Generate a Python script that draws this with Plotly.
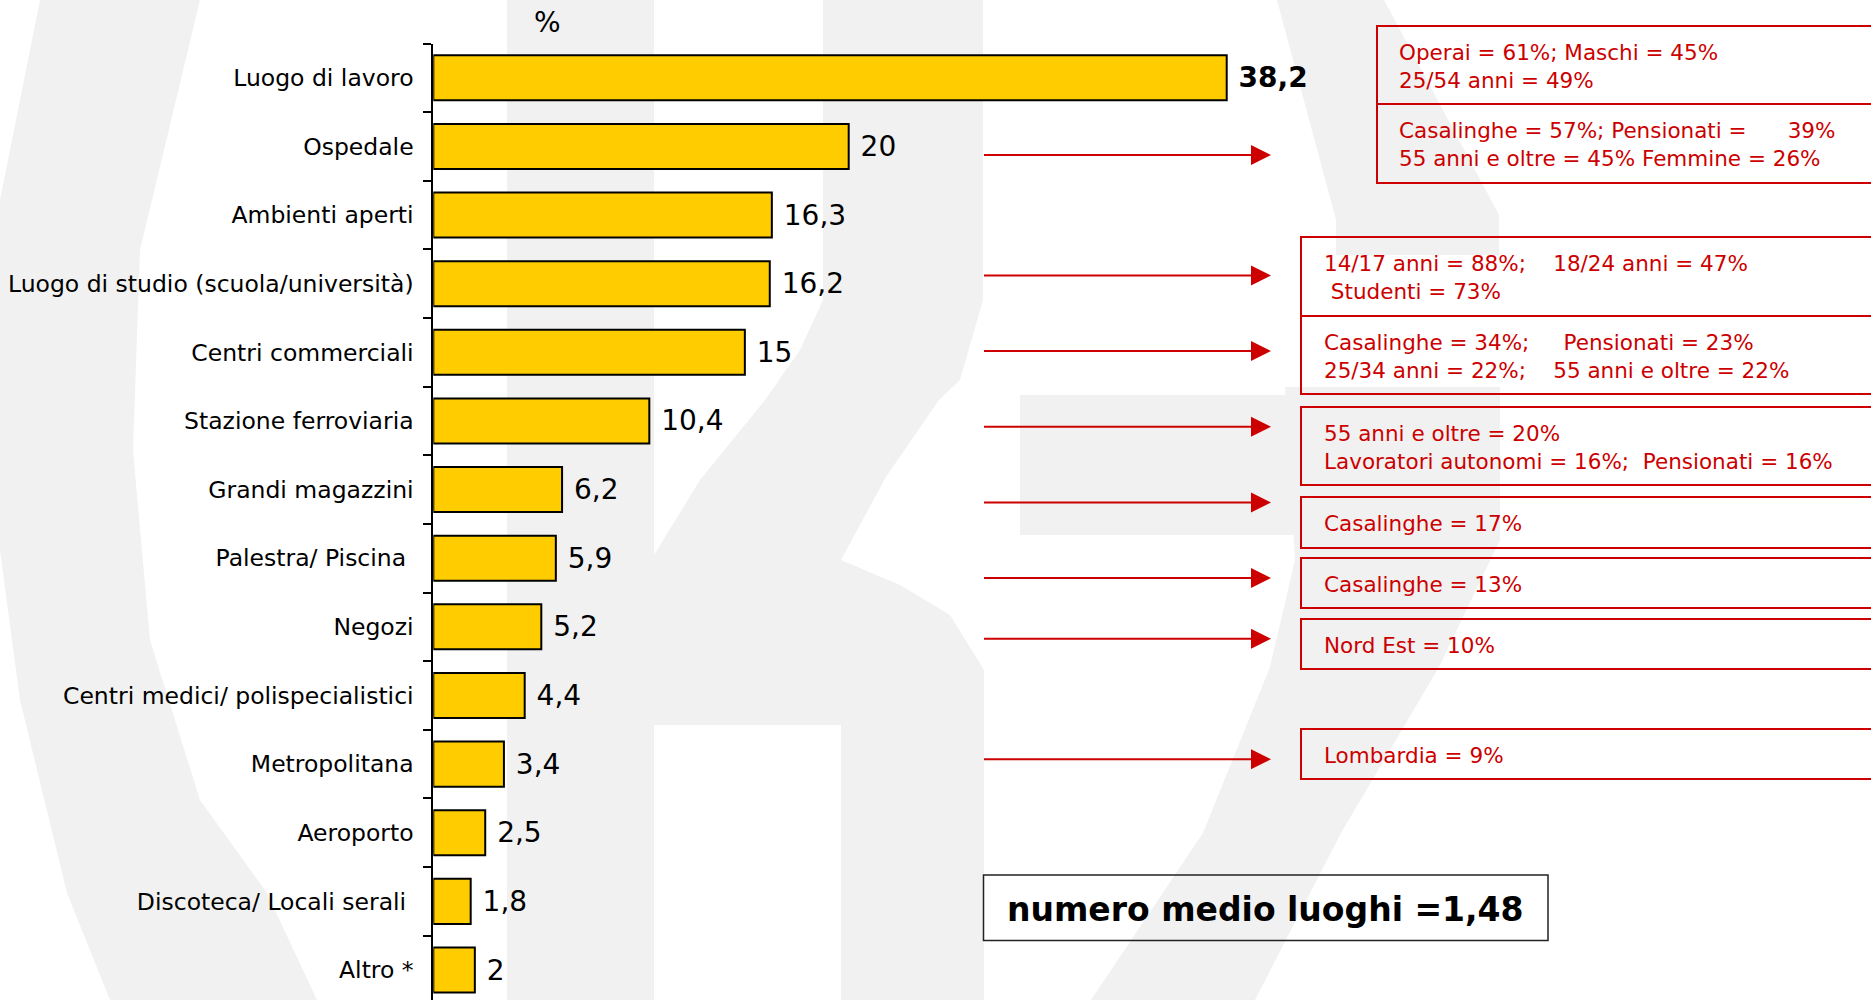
import plotly.graph_objects as go

W, H = 1871, 1000

# ---------------- data ----------------
categories = [
    "Luogo di lavoro", "Ospedale", "Ambienti aperti",
    "Luogo di studio (scuola/università)", "Centri commerciali",
    "Stazione ferroviaria", "Grandi magazzini", "Palestra/ Piscina",
    "Negozi", "Centri medici/ polispecialistici", "Metropolitana",
    "Aeroporto", "Discoteca/ Locali serali", "Altro *",
]
values = [38.2, 20, 16.3, 16.2, 15, 10.4, 6.2, 5.9, 5.2, 4.4, 3.4, 2.5, 1.8, 2]
value_labels = ["<b>38,2</b>", "20", "16,3", "16,2", "15", "10,4", "6,2", "5,9",
                "5,2", "4,4", "3,4", "2,5", "1,8", "2"]
tick_labels = [
    "Luogo di lavoro", "Ospedale", "Ambienti aperti",
    "Luogo di studio (scuola/università)", "Centri commerciali",
    "Stazione ferroviaria", "Grandi magazzini", "Palestra/ Piscina\u00a0",
    "Negozi", "Centri medici/ polispecialistici", "Metropolitana",
    "Aeroporto", "Discoteca/ Locali serali\u00a0", "Altro *",
]
unit_label = "%"
summary_text = "numero medio luoghi =1,48"

NB = "\u00a0"
box_texts = [
    "Operai = 61%; Maschi = 45%<br>25/54 anni = 49%",
    "Casalinghe = 57%; Pensionati =" + NB * 6 + "39%<br>55 anni e oltre = 45% Femmine = 26%",
    "14/17 anni = 88%;" + NB * 4 + "18/24 anni = 47%<br>" + NB + "Studenti = 73%",
    "Casalinghe = 34%;" + NB * 5 + "Pensionati = 23%<br>25/34 anni = 22%;" + NB * 4 + "55 anni e oltre = 22%",
    "55 anni e oltre = 20%<br>Lavoratori autonomi = 16%;" + NB * 2 + "Pensionati = 16%",
    "Casalinghe = 17%",
    "Casalinghe = 13%",
    "Nord Est = 10%",
    "Lombardia = 9%",
]

# ---------------- layout geometry (pixels) ----------------
FONT = "DejaVu Sans, Verdana, sans-serif"
RED = "#CC0000"
AX_L, AX_R = 433.3, 433.3 + 40 * 20.77
TOP = 43.5
ROW = 68.63
bottom_rows = (H - (TOP + ROW / 2)) / ROW  # row units visible at bottom

def px(x):
    return x / W

def py(y):
    return 1 - y / H

# annotation boxes: (left, top, bottom, text-left)
boxes = [
    (1377, 26, 104, 1397),
    (1377, 104, 183, 1397),
    (1301, 237, 316, 1322),
    (1301, 316, 394, 1322),
    (1301, 407, 485, 1322),
    (1301, 497, 548, 1322),
    (1301, 558, 608, 1322),
    (1301, 619, 669, 1322),
    (1301, 729, 779, 1322),
]
arrow_y = [155, 275.5, 351, 426.7, 502.5, 578, 638.7, 759.3]
ARROW_X0, ARROW_X1 = 982.5, 1271

# faint watermark polygons (pixels)
watermark = [
    [(40, 0), (200, 0), (140, 250), (133, 450), (150, 640), (200, 800), (267, 893), (317, 1000),
     (110, 1000), (67, 893), (20, 700), (0, 550), (0, 200)],
    [(507, 0), (654, 0), (654, 1000), (507, 1000)],
    [(823, 0), (983, 0), (983, 300), (960, 380), (939, 400), (886, 477), (841, 560), (900, 585),
     (950, 615), (984, 670), (984, 1000), (841, 1000), (841, 725), (654, 725), (654, 555),
     (700, 480), (765, 400), (800, 350), (823, 300)],
    [(1020, 395), (1500, 395), (1500, 535), (1020, 535)],
    [(1277, 0), (1384, 0), (1499, 215), (1499, 255), (1336, 255), (1336, 220)],
    [(1285, 387), (1500, 387), (1500, 540), (1439, 667), (1341, 833), (1255, 1000),
     (1091, 1000), (1203, 833), (1270, 667), (1295, 560)],
]

fig = go.Figure()
fig.add_trace(go.Bar(
    x=values, y=categories, orientation="h",
    marker=dict(color="#FFCC00", line=dict(color="black", width=2)),
    text=[NB + t for t in value_labels], textposition="outside",
    textfont=dict(family=FONT, size=28, color="black"),
    constraintext="none", cliponaxis=False, hoverinfo="skip",
))

shapes = []
for poly in watermark:
    path = "M " + " L ".join(f"{px(x):.5f},{py(y):.5f}" for x, y in poly) + " Z"
    shapes.append(dict(type="path", xref="paper", yref="paper", path=path,
                       fillcolor="#f1f1f1", line=dict(width=0), layer="below"))
for (l, t, b, _) in boxes:
    shapes.append(dict(type="rect", xref="paper", yref="paper",
                       x0=px(l), x1=px(W + 20), y0=py(b), y1=py(t),
                       line=dict(color=RED, width=2), fillcolor="rgba(0,0,0,0)"))
# summary box
shapes.append(dict(type="rect", xref="paper", yref="paper",
                   x0=px(983.5), x1=px(1548), y0=py(940.5), y1=py(875),
                   line=dict(color="#222222", width=1.5), fillcolor="rgba(0,0,0,0)"))

annotations = []
for (l, t, b, tx), txt in zip(boxes, box_texts):
    annotations.append(dict(xref="paper", yref="paper", x=px(tx), y=py((t + b) / 2 + 1),
                            xanchor="left", yanchor="middle", align="left", showarrow=False,
                            text=txt, font=dict(family=FONT, size=21.5, color=RED)))
for yy in arrow_y:
    annotations.append(dict(xref="paper", yref="paper", x=px(ARROW_X1), y=py(yy),
                            axref="pixel", ayref="pixel", ax=-(ARROW_X1 - ARROW_X0), ay=0,
                            text="", showarrow=True, arrowhead=2, arrowsize=2.0,
                            arrowwidth=2, arrowcolor=RED, standoff=0))
annotations.append(dict(xref="paper", yref="paper", x=px(547), y=py(22),
                        xanchor="center", yanchor="middle", showarrow=False,
                        text=unit_label, font=dict(family=FONT, size=28, color="black")))
annotations.append(dict(xref="paper", yref="paper", x=px((983.5 + 1548) / 2), y=py(909),
                        xanchor="center", yanchor="middle", showarrow=False,
                        text="<b>" + summary_text + "</b>",
                        font=dict(family=FONT, size=33, color="black")))

fig.update_layout(
    width=W, height=H,
    margin=dict(l=0, r=0, t=0, b=0, pad=0),
    paper_bgcolor="white", plot_bgcolor="rgba(0,0,0,0)",
    showlegend=False, bargap=0.344,
    shapes=shapes, annotations=annotations,
    xaxis=dict(domain=[px(AX_L), px(AX_R)], range=[0, 40], visible=False,
               showgrid=False, zeroline=False, fixedrange=True),
    yaxis=dict(domain=[0, py(TOP)], type="category",
               range=[bottom_rows, -0.5],
               tickmode="array", tickvals=categories, ticktext=tick_labels,
               tickson="boundaries", ticks="outside", ticklen=8, tickwidth=2,
               tickcolor="black", showline=True, linecolor="black", linewidth=2,
               showgrid=False, zeroline=False, automargin=False,
               ticklabelstandoff=13,
               tickfont=dict(family=FONT, size=23.5, color="black")),
)

fig.write_html(
    "out.html",
    config={"displayModeBar": False},
    post_script="document.documentElement.style.margin='0';"
                "document.body.style.margin='0';"
                "document.body.style.overflow='hidden';",
)
